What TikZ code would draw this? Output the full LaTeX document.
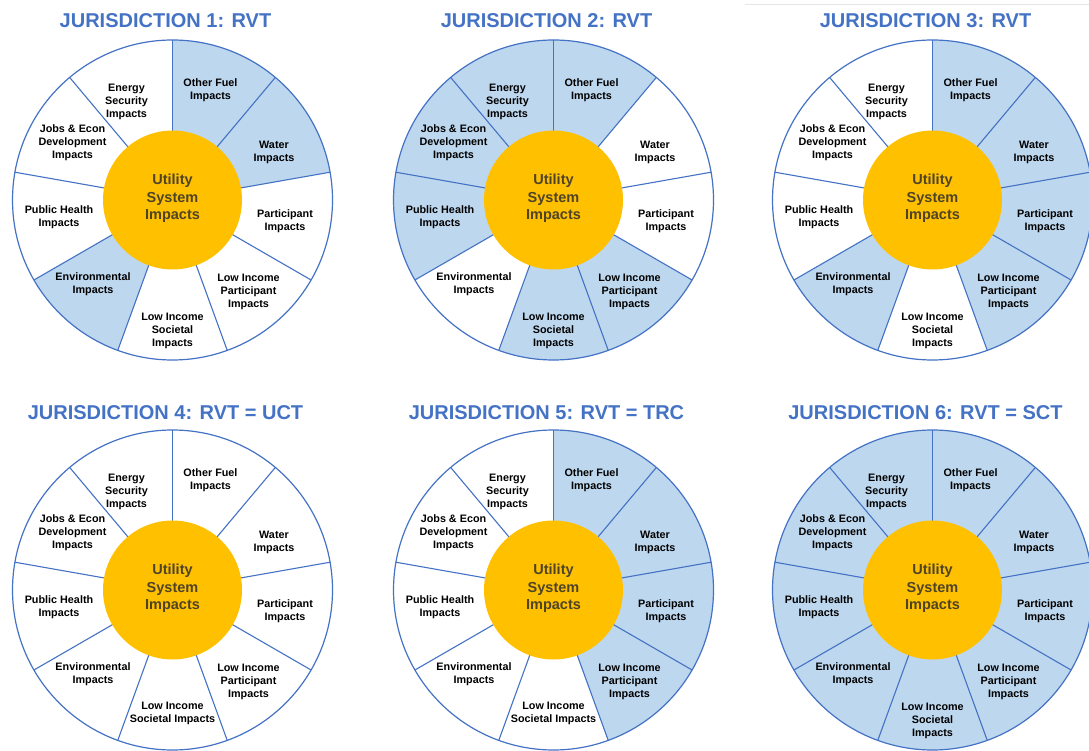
\documentclass[tikz,border=0pt]{standalone}
\usepackage{fontspec}
\setmainfont{Liberation Sans}
\definecolor{jblue}{HTML}{4472C4}
\definecolor{segblue}{HTML}{BDD7EE}
\definecolor{hubfill}{HTML}{FFC000}
\definecolor{hubtext}{HTML}{4F4427}
\definecolor{faintline}{HTML}{E6E6E6}
\tikzset{
 rim/.style={draw=jblue, line width=1.2pt},
 spoke/.style={draw=jblue, line width=1.1pt},
 shadeseg/.style={fill=segblue},
 hub/.style={circle, fill=hubfill, minimum size=139pt, inner sep=0pt, outer sep=0pt},
 hubtxt/.style={text=hubtext, font=\fontsize{14.5}{17.5}\selectfont\bfseries, align=center, inner sep=0pt},
 seglabel/.style={font=\fontsize{10.8}{13}\selectfont\bfseries, align=center, text=black, inner sep=0pt},
 jtitle/.style={font=\fontsize{20}{24}\selectfont\bfseries, text=jblue, anchor=base, inner sep=0pt},
}
\newcommand{\impactwheel}[5]{%
\begin{scope}[shift={#2}]
 \fill[white] (0,0) circle[radius=160];
 \foreach \f [count=\k from 0] in {#3}{
   \ifnum\f=1
     \pgfmathsetmacro\aa{90-40*\k}
     \fill[shadeseg] (0,0) -- (\aa:160) arc[start angle=\aa, delta angle=-40, radius=160] -- cycle;
   \fi
 }
 \foreach \k in {0,...,8}{
   \draw[spoke] (0,0) -- ({90-40*\k}:160);
 }
 \draw[rim] (0,0) circle[radius=160];
 \node[hub] (#1-hub) at (0,0) {};
 \node[hubtxt] (#1-hubtext) at (0,1.5) {Utility\\System\\Impacts};
 \node[seglabel] (#1-other) at (38,109.5) {Other Fuel\\Impacts};
 \node[seglabel] (#1-water) at (101.5,47.5) {Water\\Impacts};
 \node[seglabel] (#1-part) at (112.5,-21.5) {Participant\\Impacts};
 \node[seglabel] (#1-lip) at (76,-91.5) {Low Income\\Participant\\Impacts};
 \node[seglabel] (#1-lis) at (0,#5) {#4};
 \node[seglabel] (#1-env) at (-79.5,-84) {Environmental\\Impacts};
 \node[seglabel] (#1-ph) at (-113.5,-17.5) {Public Health\\Impacts};
 \node[seglabel] (#1-jobs) at (-100,57) {Jobs \& Econ\\Development\\Impacts};
 \node[seglabel] (#1-es) at (-46,98) {Energy\\Security\\Impacts};
\end{scope}}
\begin{document}
\begin{tikzpicture}[x=1pt,y=1pt]
 \fill[white] (0,0) rectangle (1089,750);
 \useasboundingbox (0,0) rectangle (1089,750);
 \clip (0,0) rectangle (1089,750);
 \draw[faintline, line width=1pt] (745,745) -- (1089,745);

 \node[jtitle] (t1) at (165.5,722) {JURISDICTION 1: RVT};
 \node[jtitle] (t2) at (546.5,722) {JURISDICTION 2: RVT};
 \node[jtitle] (t3) at (925.5,722) {JURISDICTION 3: RVT};
 \node[jtitle] (t4) at (165.5,330) {JURISDICTION 4: RVT = UCT};
 \node[jtitle] (t5) at (546.5,330) {JURISDICTION 5: RVT = TRC};
 \node[jtitle] (t6) at (925.5,330) {JURISDICTION 6: RVT = SCT};

 \impactwheel{w1}{(172.5,550)}{1,1,0,0,0,1,0,0,0}{Low Income\\Societal\\Impacts}{-131}
 \impactwheel{w2}{(553.5,550)}{1,0,0,1,1,0,1,1,1}{Low Income\\Societal\\Impacts}{-131}
 \impactwheel{w3}{(932.5,550)}{1,1,1,1,0,1,0,0,0}{Low Income\\Societal\\Impacts}{-131}
 \impactwheel{w4}{(172.5,160)}{0,0,0,0,0,0,0,0,0}{Low Income\\Societal Impacts}{-123.5}
 \impactwheel{w5}{(553.5,160)}{1,1,1,1,0,0,0,0,0}{Low Income\\Societal Impacts}{-123.5}
 \impactwheel{w6}{(932.5,160)}{1,1,1,1,1,1,1,1,1}{Low Income\\Societal\\Impacts}{-131}
\end{tikzpicture}
\end{document}
